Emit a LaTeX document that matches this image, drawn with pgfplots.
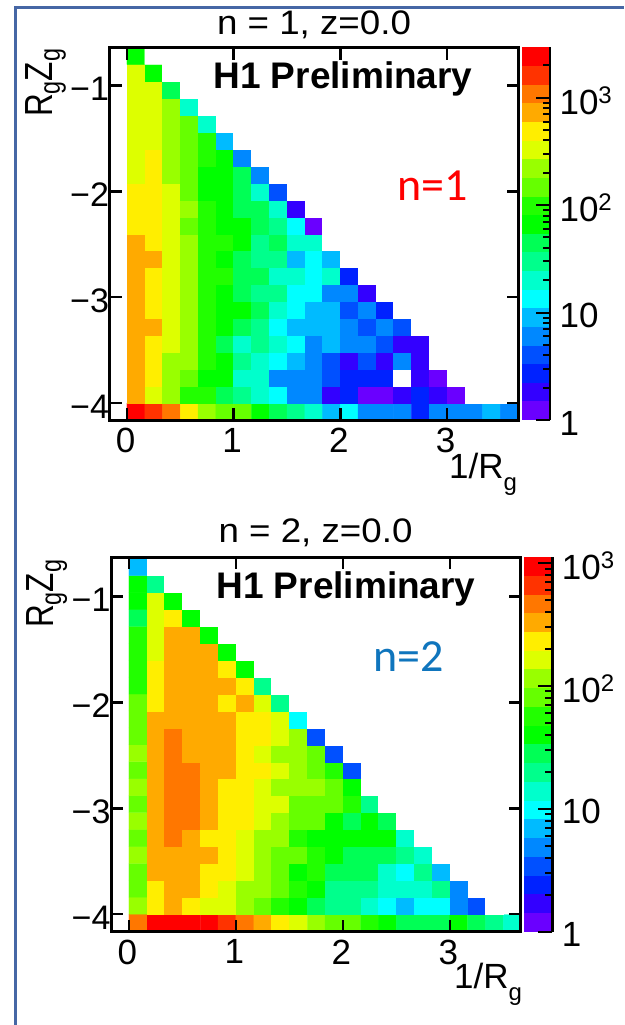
\documentclass[border=0pt]{standalone}
\usepackage{pgfplots}
\pgfplotsset{compat=1.18}
\usepackage{fontspec}
\setmainfont{Liberation Sans}
\newfontfamily\carl{Carlito}
\definecolor{c0}{RGB}{106,0,255}\definecolor{c1}{RGB}{51,0,255}\definecolor{c2}{RGB}{0,34,255}\definecolor{c3}{RGB}{0,80,255}
\definecolor{c4}{RGB}{0,136,255}\definecolor{c5}{RGB}{0,187,255}\definecolor{c6}{RGB}{0,255,255}\definecolor{c7}{RGB}{0,255,204}
\definecolor{c8}{RGB}{0,255,140}\definecolor{c9}{RGB}{0,255,85}\definecolor{c10}{RGB}{0,255,0}\definecolor{c11}{RGB}{34,255,0}
\definecolor{c12}{RGB}{102,255,0}\definecolor{c13}{RGB}{153,255,0}\definecolor{c14}{RGB}{221,255,0}\definecolor{c15}{RGB}{255,238,0}
\definecolor{c16}{RGB}{255,170,0}\definecolor{c17}{RGB}{255,119,0}\definecolor{c18}{RGB}{255,51,0}\definecolor{c19}{RGB}{255,0,0}
\newcommand\fs[1]{\fontsize{#1}{#1}\selectfont}
\newcommand\lev[3]{\addplot[fill=#1,draw=none] coordinates {(0,#2)(1,#2)(1,#3)(0,#3)} -- cycle;}
\newcommand\rzlabel{\scalebox{0.9}[1.12]{\fs{35}R\raisebox{-7pt}{\fs{26}g}Z\raisebox{-7pt}{\fs{26}g}}}
\newcommand\rglabel{\fs{35}1/R\raisebox{-12pt}{\fs{24}g}}
\newcommand\tensup[1]{10\raisebox{11pt}{\fs{24}#1}}
\pgfplotsset{
 colormap={hone}{rgb255=(255,255,255) rgb255=(106,0,255) rgb255=(51,0,255) rgb255=(0,34,255) rgb255=(0,80,255) rgb255=(0,136,255) rgb255=(0,187,255) rgb255=(0,255,255) rgb255=(0,255,204) rgb255=(0,255,140) rgb255=(0,255,85) rgb255=(0,255,0) rgb255=(34,255,0) rgb255=(102,255,0) rgb255=(153,255,0) rgb255=(221,255,0) rgb255=(255,238,0) rgb255=(255,170,0) rgb255=(255,119,0) rgb255=(255,51,0) rgb255=(255,0,0)},
 heat/.style={scale only axis, axis on top, colormap name=hone, colormap access=piecewise constant,
  xtick={0,1,2,3}, xticklabels={0,1,2,3}, ytick={-4,-3,-2,-1}, yticklabels={−4,−3,−2,−1},
  minor tick num=0, tick align=inside, major tick length=12pt, tick style={black,line width=2.5pt},
  axis line style={line width=3pt}, xtick pos=both, ytick pos=both, xticklabel pos=bottom, yticklabel pos=left,
  xticklabel style={font=\fs{35}, anchor=north, yshift=-4.5pt, xshift=-1.5pt},
  yticklabel style={font=\fs{34}, anchor=east, xshift=3pt, yshift=-3.5pt}},
 hplot/.style={matrix plot*, mesh/cols=22, mesh/rows=22, point meta=explicit},
 cbar/.style={scale only axis, axis on top, axis y line=right, axis x line=none, xmin=0, xmax=1, ymin=0,
  axis line style={-,line width=2.5pt}, tick align=inside, major tick length=14pt, minor tick length=7pt,
  tick style={black,line width=2pt}, ytick={0,1,2,3}, yticklabels={1,10,\tensup{2},\tensup{3}},
  minor ytick={.301,.477,.602,.699,.778,.845,.903,.954,1.301,1.477,1.602,1.699,1.778,1.845,1.903,1.954,2.301,2.477,2.602,2.699,2.778,2.845,2.903,2.954,3.301},
  yticklabel style={font=\fs{35}, anchor=west, xshift=6pt, yshift=-3pt}},
}
\begin{document}
\begin{tikzpicture}[x=1pt,y=1pt]
\useasboundingbox (0,0) rectangle (624,-1025);
\draw[color={rgb,255:red,70;green,103;blue,165},line width=3pt] (15,-1025) -- (15,-7.5) -- (624,-7.5);
% ---------- panel 1 (0.9 marks an empty bin, below the first colour level)
\begin{axis}[heat, at={(109.5pt,-47.5pt)}, anchor=north west, width=409pt, height=372.5pt,
 xmin=-0.164, xmax=3.67, ymin=-4.16, ymax=-0.64, point meta min=-0.17335, point meta max=3.467]
\addplot[hplot] table[row sep=\\, header=false, x expr={(mod(\coordindex,22)+0.5)/6}, y expr={-4.08+0.16*floor((\coordindex+0.5)/22)}, meta expr={log10(\thisrowno{0})}]{
2402\\1611\\1080\\487\\219\\147\\147\\66\\44.4\\29.8\\20\\9\\13.4\\6.03\\6.03\\6.03\\2.71\\6.03\\6.03\\6.03\\9\\6.03\\
725\\326\\219\\98\\98\\44.4\\29.8\\20\\13.4\\6.03\\6.03\\1.82\\2.71\\1.22\\1.22\\1.82\\2.71\\1.82\\1.22\\.9\\.9\\.9\\
725\\487\\219\\147\\66\\66\\20\\20\\6.03\\6.03\\6.03\\4.05\\2.71\\2.71\\2.71\\.9\\1.82\\1.22\\.9\\.9\\.9\\.9\\
725\\487\\219\\219\\98\\66\\29.8\\20\\13.4\\9\\6.03\\4.05\\1.82\\4.05\\1.82\\6.03\\1.82\\.9\\.9\\.9\\.9\\.9\\
725\\487\\326\\219\\98\\44.4\\20\\29.8\\20\\13.4\\6.03\\9\\6.03\\6.03\\4.05\\1.82\\1.82\\.9\\.9\\.9\\.9\\.9\\
725\\725\\326\\219\\98\\66\\44.4\\29.8\\13.4\\9\\9\\9\\6.03\\4.05\\6.03\\4.05\\.9\\.9\\.9\\.9\\.9\\.9\\
725\\487\\326\\219\\98\\66\\66\\44.4\\20\\13.4\\9\\9\\4.05\\6.03\\2.71\\.9\\.9\\.9\\.9\\.9\\.9\\.9\\
725\\487\\326\\219\\98\\66\\44.4\\29.8\\29.8\\13.4\\13.4\\6.03\\6.03\\1.82\\.9\\.9\\.9\\.9\\.9\\.9\\.9\\.9\\
725\\487\\326\\219\\98\\98\\44.4\\44.4\\20\\20\\13.4\\20\\2.71\\.9\\.9\\.9\\.9\\.9\\.9\\.9\\.9\\.9\\
725\\725\\326\\219\\98\\66\\44.4\\29.8\\29.8\\9\\13.4\\9\\.9\\.9\\.9\\.9\\.9\\.9\\.9\\.9\\.9\\.9\\
725\\487\\326\\219\\98\\98\\66\\29.8\\44.4\\20\\20\\.9\\.9\\.9\\.9\\.9\\.9\\.9\\.9\\.9\\.9\\.9\\
487\\487\\326\\147\\98\\66\\66\\44.4\\29.8\\13.4\\1.22\\.9\\.9\\.9\\.9\\.9\\.9\\.9\\.9\\.9\\.9\\.9\\
487\\487\\326\\219\\98\\66\\44.4\\44.4\\20\\1.82\\.9\\.9\\.9\\.9\\.9\\.9\\.9\\.9\\.9\\.9\\.9\\.9\\
487\\487\\326\\147\\66\\66\\44.4\\20\\4.05\\.9\\.9\\.9\\.9\\.9\\.9\\.9\\.9\\.9\\.9\\.9\\.9\\.9\\
326\\487\\219\\147\\66\\66\\44.4\\6.03\\.9\\.9\\.9\\.9\\.9\\.9\\.9\\.9\\.9\\.9\\.9\\.9\\.9\\.9\\
326\\487\\219\\147\\98\\66\\6.03\\.9\\.9\\.9\\.9\\.9\\.9\\.9\\.9\\.9\\.9\\.9\\.9\\.9\\.9\\.9\\
326\\326\\219\\147\\98\\9\\.9\\.9\\.9\\.9\\.9\\.9\\.9\\.9\\.9\\.9\\.9\\.9\\.9\\.9\\.9\\.9\\
326\\326\\219\\147\\20\\.9\\.9\\.9\\.9\\.9\\.9\\.9\\.9\\.9\\.9\\.9\\.9\\.9\\.9\\.9\\.9\\.9\\
326\\326\\219\\20\\.9\\.9\\.9\\.9\\.9\\.9\\.9\\.9\\.9\\.9\\.9\\.9\\.9\\.9\\.9\\.9\\.9\\.9\\
326\\326\\44.4\\.9\\.9\\.9\\.9\\.9\\.9\\.9\\.9\\.9\\.9\\.9\\.9\\.9\\.9\\.9\\.9\\.9\\.9\\.9\\
326\\66\\.9\\.9\\.9\\.9\\.9\\.9\\.9\\.9\\.9\\.9\\.9\\.9\\.9\\.9\\.9\\.9\\.9\\.9\\.9\\.9\\
66\\.9\\.9\\.9\\.9\\.9\\.9\\.9\\.9\\.9\\.9\\.9\\.9\\.9\\.9\\.9\\.9\\.9\\.9\\.9\\.9\\.9\\
};
\end{axis}
\begin{axis}[cbar, at={(521.7pt,-47.5pt)}, anchor=north west, width=28.3pt, height=372.5pt, ymax=3.467]
\lev{c0}{0}{.173}\lev{c1}{.173}{.347}\lev{c2}{.347}{.52}\lev{c3}{.52}{.693}\lev{c4}{.693}{.867}
\lev{c5}{.867}{1.04}\lev{c6}{1.04}{1.213}\lev{c7}{1.213}{1.387}\lev{c8}{1.387}{1.56}\lev{c9}{1.56}{1.733}
\lev{c10}{1.733}{1.907}\lev{c11}{1.907}{2.08}\lev{c12}{2.08}{2.254}\lev{c13}{2.254}{2.427}\lev{c14}{2.427}{2.6}
\lev{c15}{2.6}{2.774}\lev{c16}{2.774}{2.947}\lev{c17}{2.947}{3.12}\lev{c18}{3.12}{3.294}\lev{c19}{3.294}{3.467}
\end{axis}
\node at (314,-25) {\scalebox{1.08}[1]{\fs{34}n = 1, z=0.0}};
\node[font=\fs{37}\bfseries] at (343,-79) {H1 Preliminary};
\node[font=\fs{46}\carl,text=red] at (433,-186) {n=1};
\node[rotate=90,anchor=base west,inner sep=0pt] at (52,-117) {\rzlabel};
\node[anchor=base west,inner sep=0pt] at (449,-478) {\rglabel};
% ---------- panel 2
\begin{axis}[heat, at={(111pt,-557pt)}, anchor=north west, width=409.5pt, height=374.7pt,
 xmin=-0.168, xmax=3.66, ymin=-4.167, ymax=-0.625, point meta min=-0.1524, point meta max=3.048]
\addplot[hplot] table[row sep=\\, header=false, x expr={(mod(\coordindex,22)+0.5)/6}, y expr={-4.08+0.16*floor((\coordindex+0.5)/22)}, meta expr={log10(\thisrowno{0})}]{
465\\937\\937\\937\\937\\660\\465\\327\\230\\162\\114\\80\\80\\56.6\\39.8\\28\\28\\28\\39.8\\28\\19.7\\13.9\\
114\\230\\327\\230\\162\\162\\114\\80\\56.6\\39.8\\28\\19.7\\19.7\\13.9\\9.79\\6.89\\9.79\\9.79\\4.85\\3.42\\.9\\.9\\
80\\230\\327\\327\\230\\162\\114\\114\\80\\56.6\\39.8\\19.7\\19.7\\19.7\\13.9\\13.9\\13.9\\19.7\\4.85\\.9\\.9\\.9\\
80\\327\\327\\327\\230\\230\\162\\114\\80\\39.8\\56.6\\28\\28\\28\\13.9\\9.79\\19.7\\6.89\\.9\\.9\\.9\\.9\\
114\\327\\327\\327\\327\\230\\162\\114\\80\\80\\56.6\\39.8\\28\\28\\28\\19.7\\13.9\\.9\\.9\\.9\\.9\\.9\\
80\\327\\465\\327\\230\\230\\162\\114\\114\\56.6\\39.8\\39.8\\39.8\\39.8\\39.8\\13.9\\.9\\.9\\.9\\.9\\.9\\.9\\
114\\327\\465\\465\\327\\230\\230\\162\\114\\80\\80\\39.8\\28\\39.8\\28\\.9\\.9\\.9\\.9\\.9\\.9\\.9\\
80\\327\\465\\465\\327\\230\\230\\162\\162\\80\\80\\80\\56.6\\19.7\\.9\\.9\\.9\\.9\\.9\\.9\\.9\\.9\\
114\\327\\465\\465\\327\\230\\230\\162\\114\\114\\114\\80\\39.8\\.9\\.9\\.9\\.9\\.9\\.9\\.9\\.9\\.9\\
80\\327\\465\\465\\327\\327\\230\\230\\162\\114\\80\\56.6\\3.42\\.9\\.9\\.9\\.9\\.9\\.9\\.9\\.9\\.9\\
114\\327\\465\\327\\327\\327\\230\\162\\114\\114\\80\\3.42\\.9\\.9\\.9\\.9\\.9\\.9\\.9\\.9\\.9\\.9\\
80\\327\\465\\327\\327\\327\\230\\230\\162\\114\\3.42\\.9\\.9\\.9\\.9\\.9\\.9\\.9\\.9\\.9\\.9\\.9\\
80\\327\\327\\327\\327\\327\\230\\230\\162\\9.79\\.9\\.9\\.9\\.9\\.9\\.9\\.9\\.9\\.9\\.9\\.9\\.9\\
80\\230\\327\\327\\327\\230\\327\\162\\19.7\\.9\\.9\\.9\\.9\\.9\\.9\\.9\\.9\\.9\\.9\\.9\\.9\\.9\\
56.6\\230\\327\\327\\327\\327\\230\\19.7\\.9\\.9\\.9\\.9\\.9\\.9\\.9\\.9\\.9\\.9\\.9\\.9\\.9\\.9\\
56.6\\230\\327\\327\\327\\230\\39.8\\.9\\.9\\.9\\.9\\.9\\.9\\.9\\.9\\.9\\.9\\.9\\.9\\.9\\.9\\.9\\
56.6\\162\\327\\327\\327\\39.8\\.9\\.9\\.9\\.9\\.9\\.9\\.9\\.9\\.9\\.9\\.9\\.9\\.9\\.9\\.9\\.9\\
56.6\\162\\327\\327\\39.8\\.9\\.9\\.9\\.9\\.9\\.9\\.9\\.9\\.9\\.9\\.9\\.9\\.9\\.9\\.9\\.9\\.9\\
28\\162\\230\\39.8\\.9\\.9\\.9\\.9\\.9\\.9\\.9\\.9\\.9\\.9\\.9\\.9\\.9\\.9\\.9\\.9\\.9\\.9\\
39.8\\162\\39.8\\.9\\.9\\.9\\.9\\.9\\.9\\.9\\.9\\.9\\.9\\.9\\.9\\.9\\.9\\.9\\.9\\.9\\.9\\.9\\
39.8\\19.7\\.9\\.9\\.9\\.9\\.9\\.9\\.9\\.9\\.9\\.9\\.9\\.9\\.9\\.9\\.9\\.9\\.9\\.9\\.9\\.9\\
6.89\\.9\\.9\\.9\\.9\\.9\\.9\\.9\\.9\\.9\\.9\\.9\\.9\\.9\\.9\\.9\\.9\\.9\\.9\\.9\\.9\\.9\\
};
\end{axis}
\begin{axis}[cbar, at={(524pt,-557pt)}, anchor=north west, width=28.3pt, height=374.7pt, ymax=3.048]
\lev{c0}{0}{.152}\lev{c1}{.152}{.305}\lev{c2}{.305}{.457}\lev{c3}{.457}{.61}\lev{c4}{.61}{.762}
\lev{c5}{.762}{.914}\lev{c6}{.914}{1.067}\lev{c7}{1.067}{1.219}\lev{c8}{1.219}{1.372}\lev{c9}{1.372}{1.524}
\lev{c10}{1.524}{1.676}\lev{c11}{1.676}{1.829}\lev{c12}{1.829}{1.981}\lev{c13}{1.981}{2.134}\lev{c14}{2.134}{2.286}
\lev{c15}{2.286}{2.438}\lev{c16}{2.438}{2.591}\lev{c17}{2.591}{2.743}\lev{c18}{2.743}{2.896}\lev{c19}{2.896}{3.048}
\end{axis}
\node at (315.5,-533) {\scalebox{1.08}[1]{\fs{34}n = 2, z=0.0}};
\node[font=\fs{37}\bfseries] at (346,-589) {H1 Preliminary};
\node[font=\fs{46}\carl,text={rgb,255:red,15;green,117;blue,189}] at (409,-657) {n=2};
\node[rotate=90,anchor=base west,inner sep=0pt] at (53.3,-628) {\rzlabel};
\node[anchor=base west,inner sep=0pt] at (454,-988) {\rglabel};
\end{tikzpicture}
\end{document}
